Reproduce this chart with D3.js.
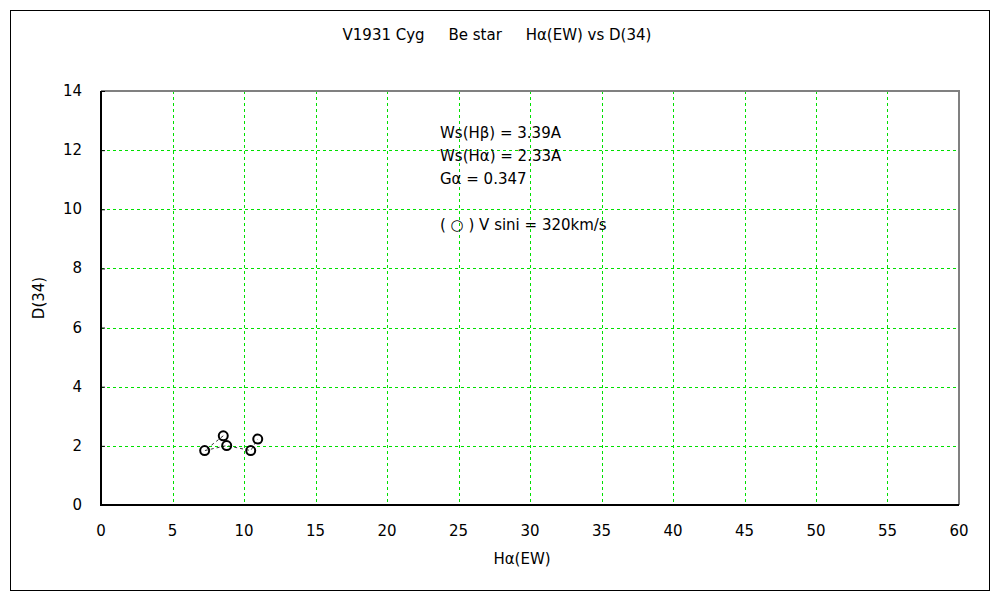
<!DOCTYPE html>
<html>
<head>
<meta charset="utf-8">
<script src="https://cdn.jsdelivr.net/npm/d3@7"></script>
<style>
  body { margin: 0; background: #fff; }
  text { font-family: "DejaVu Sans", sans-serif; fill: #000; }
</style>
</head>
<body>
<div id="chart"></div>
<script>
// data
const haEW = [8.55, 7.25, 8.79, 10.47, 10.96];
const d34 = [2.34, 1.84, 2.01, 1.84, 2.23];
const xTicks = d3.range(0, 61, 5);
const yTicks = d3.range(0, 15, 2);
const notes = ["Ws(Hβ) = 3.39A", "Ws(Hα) = 2.33A", "Gα = 0.347", "", "( ○ ) V sini = 320km/s"];

const width = 1000, height = 600;
const svg = d3.select("#chart").append("svg")
  .attr("width", width)
  .attr("height", height);

// outer frame
svg.append("rect")
  .attr("x", 10.5).attr("y", 10.5)
  .attr("width", 979).attr("height", 580)
  .attr("fill", "none").attr("stroke", "#000").attr("stroke-width", 1);

const x = d3.scaleLinear().domain([0, 60]).range([101, 959]);
const y = d3.scaleLinear().domain([0, 14]).range([505, 91]);

// grid
svg.append("g").selectAll("line")
  .data(xTicks.slice(1, -1))
  .enter().append("line")
  .attr("x1", d => Math.round(x(d)) + 0.5).attr("x2", d => Math.round(x(d)) + 0.5)
  .attr("y1", y(14)).attr("y2", y(0))
  .attr("stroke", "#00e000").attr("stroke-dasharray", "3,3");

svg.append("g").selectAll("line")
  .data(yTicks.slice(1, -1))
  .enter().append("line")
  .attr("y1", d => Math.round(y(d)) + 0.5).attr("y2", d => Math.round(y(d)) + 0.5)
  .attr("x1", x(0)).attr("x2", x(60))
  .attr("stroke", "#00e000").attr("stroke-dasharray", "3,3");

// plot border: gray top/right, black axes
svg.append("path")
  .attr("d", `M${x(0)},${y(14)}H${x(60)}V${y(0)}`)
  .attr("fill", "none").attr("stroke", "#808080").attr("stroke-width", 2);

const yAxis = svg.append("g")
  .attr("transform", `translate(${x(0)},0)`)
  .call(d3.axisRight(y).tickValues(yTicks).tickSize(4).tickFormat(""));
yAxis.select(".domain").remove();
yAxis.selectAll("line").attr("stroke", "#000");

svg.append("path")
  .attr("d", `M${x(0)},${y(14)}V${y(0)}H${x(60)}`)
  .attr("fill", "none").attr("stroke", "#000").attr("stroke-width", 2);

// tick labels
svg.append("g").selectAll("text")
  .data(xTicks)
  .enter().append("text")
  .attr("x", d => x(d))
  .attr("y", 536)
  .attr("text-anchor", "middle")
  .style("font-size", "15px")
  .text(d => d);

svg.append("g").selectAll("text")
  .data(yTicks)
  .enter().append("text")
  .attr("x", 82)
  .attr("y", d => y(d) + 5)
  .attr("text-anchor", "end")
  .style("font-size", "15px")
  .text(d => d);

// titles
svg.append("text")
  .attr("x", 497).attr("y", 40)
  .attr("text-anchor", "middle")
  .style("font-size", "15px")
  .style("white-space", "pre")
  .text("V1931 Cyg     Be star     Hα(EW) vs D(34)");

svg.append("text")
  .attr("x", 522).attr("y", 564)
  .attr("text-anchor", "middle")
  .style("font-size", "15px")
  .text("Hα(EW)");

svg.append("text")
  .attr("transform", "translate(44,298) rotate(-90)")
  .attr("text-anchor", "middle")
  .style("font-size", "15px")
  .text("D(34)");

// notes
svg.append("g").selectAll("text")
  .data(notes)
  .enter().append("text")
  .attr("x", 440)
  .attr("y", (d, i) => i < 4 ? 138 + i * 23 : 230)
  .style("font-size", "15px")
  .style("white-space", "pre")
  .text(d => d);

// series
const pts = haEW.map((v, i) => [v, d34[i]]);
svg.append("path")
  .datum(pts)
  .attr("d", d3.line().x(d => x(d[0])).y(d => y(d[1])))
  .attr("fill", "none").attr("stroke", "#000").attr("stroke-width", 0.8)
  .attr("stroke-dasharray", "3,3");

svg.append("g").selectAll("circle")
  .data(pts)
  .enter().append("circle")
  .attr("cx", d => x(d[0]))
  .attr("cy", d => y(d[1]))
  .attr("r", 4.5)
  .attr("fill", "none")
  .attr("stroke", "#000")
  .attr("stroke-width", 2);
</script>
</body>
</html>
